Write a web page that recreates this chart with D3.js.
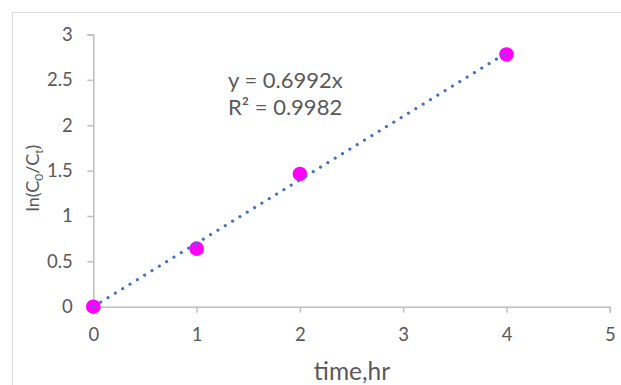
<!DOCTYPE html>
<html>
<head>
<meta charset="utf-8">
<script src="https://cdn.jsdelivr.net/npm/d3@7"></script>
<style>
  html, body { margin: 0; padding: 0; background: #fff; }
  svg { display: block; }
  text { font-family: Lato, "Open Sans", sans-serif; fill: #595959; }
</style>
</head>
<body>
<svg id="chart" width="621" height="385"></svg>
<script>
const timeHr = [0, 1, 2, 4];
const lnRatio = [0, 0.64, 1.463, 2.78];
const slope = 0.6992;
const xTicks = [0, 1, 2, 3, 4, 5];
const yTicks = [0, 0.5, 1, 1.5, 2, 2.5, 3];
const equationText = "y = 0.6992x";
const r2Text = "R² = 0.9982";
const xTitle = "time,hr";

const svg = d3.select("#chart");

// chart area border (extends beyond right and bottom edges)
svg.append("rect")
  .attr("x", 12.5).attr("y", 12.5)
  .attr("width", 700).attr("height", 500)
  .attr("fill", "#fff").attr("stroke", "#d9d9d9").attr("stroke-width", 1);

const x = d3.scaleLinear().domain([0, 5]).range([93.3, 609.8]);
const y = d3.scaleLinear().domain([0, 3]).range([306.7, 34.5]);

const axisColor = "#bfbfbf";

// x axis
const gx = svg.append("g").attr("transform", `translate(0,${y(0)})`)
  .call(d3.axisBottom(x).tickValues(xTicks).tickFormat(d3.format("d"))
    .tickSizeOuter(0).tickSize(6).tickPadding(15.5));
gx.select(".domain").attr("stroke", axisColor).attr("stroke-width", 1.5);
gx.selectAll(".tick line").attr("stroke", axisColor).attr("stroke-width", 1.5);
gx.selectAll(".tick text").attr("font-size", 18.5).attr("fill", "#595959")
  .style("font-family", "Lato, sans-serif");

// y axis
const gy = svg.append("g").attr("transform", `translate(${x(0)},0)`)
  .call(d3.axisLeft(y).tickValues(yTicks).tickFormat(d => String(d))
    .tickSizeOuter(0).tickSize(6).tickPadding(14.5));
gy.select(".domain").attr("stroke", axisColor).attr("stroke-width", 1.5);
gy.selectAll(".tick line").attr("stroke", axisColor).attr("stroke-width", 1.5);
gy.selectAll(".tick text").attr("font-size", 18.5).attr("fill", "#595959")
  .style("font-family", "Lato, sans-serif");

// data points
svg.append("g").selectAll("circle")
  .data(timeHr.map((t, i) => [t, lnRatio[i]]))
  .join("circle")
  .attr("cx", d => x(d[0]))
  .attr("cy", d => y(d[1]))
  .attr("r", 7.3)
  .attr("fill", "#ff00ff");

// trendline (dotted), from first to last x
const xMin = d3.min(timeHr), xMax = d3.max(timeHr);
svg.append("line")
  .attr("x1", x(xMin)).attr("y1", y(slope * xMin))
  .attr("x2", x(xMax)).attr("y2", y(slope * xMax))
  .attr("stroke", "#4472c4")
  .attr("stroke-width", 3.1)
  .attr("stroke-linecap", "round")
  .attr("stroke-dasharray", "0.1 8.5");

// equation annotation
svg.append("text").attr("x", 228).attr("y", 88.3)
  .attr("font-size", 22).text(equationText);
svg.append("text").attr("x", 228).attr("y", 115)
  .attr("font-size", 22).text(r2Text);

// x title
svg.append("text").attr("x", 352).attr("y", 380)
  .attr("text-anchor", "middle").attr("font-size", 24.5).text(xTitle);

// y title with subscripts
const yt = svg.append("text")
  .attr("transform", "translate(39,178) rotate(-90)")
  .attr("text-anchor", "middle").attr("font-size", 18);
yt.append("tspan").text("ln(C");
yt.append("tspan").attr("font-size", 12).attr("dy", 4).text("0");
yt.append("tspan").attr("dy", -4).text("/C");
yt.append("tspan").attr("font-size", 12).attr("dy", 4).text("t");
yt.append("tspan").attr("dy", -4).text(")");
</script>
</body>
</html>
